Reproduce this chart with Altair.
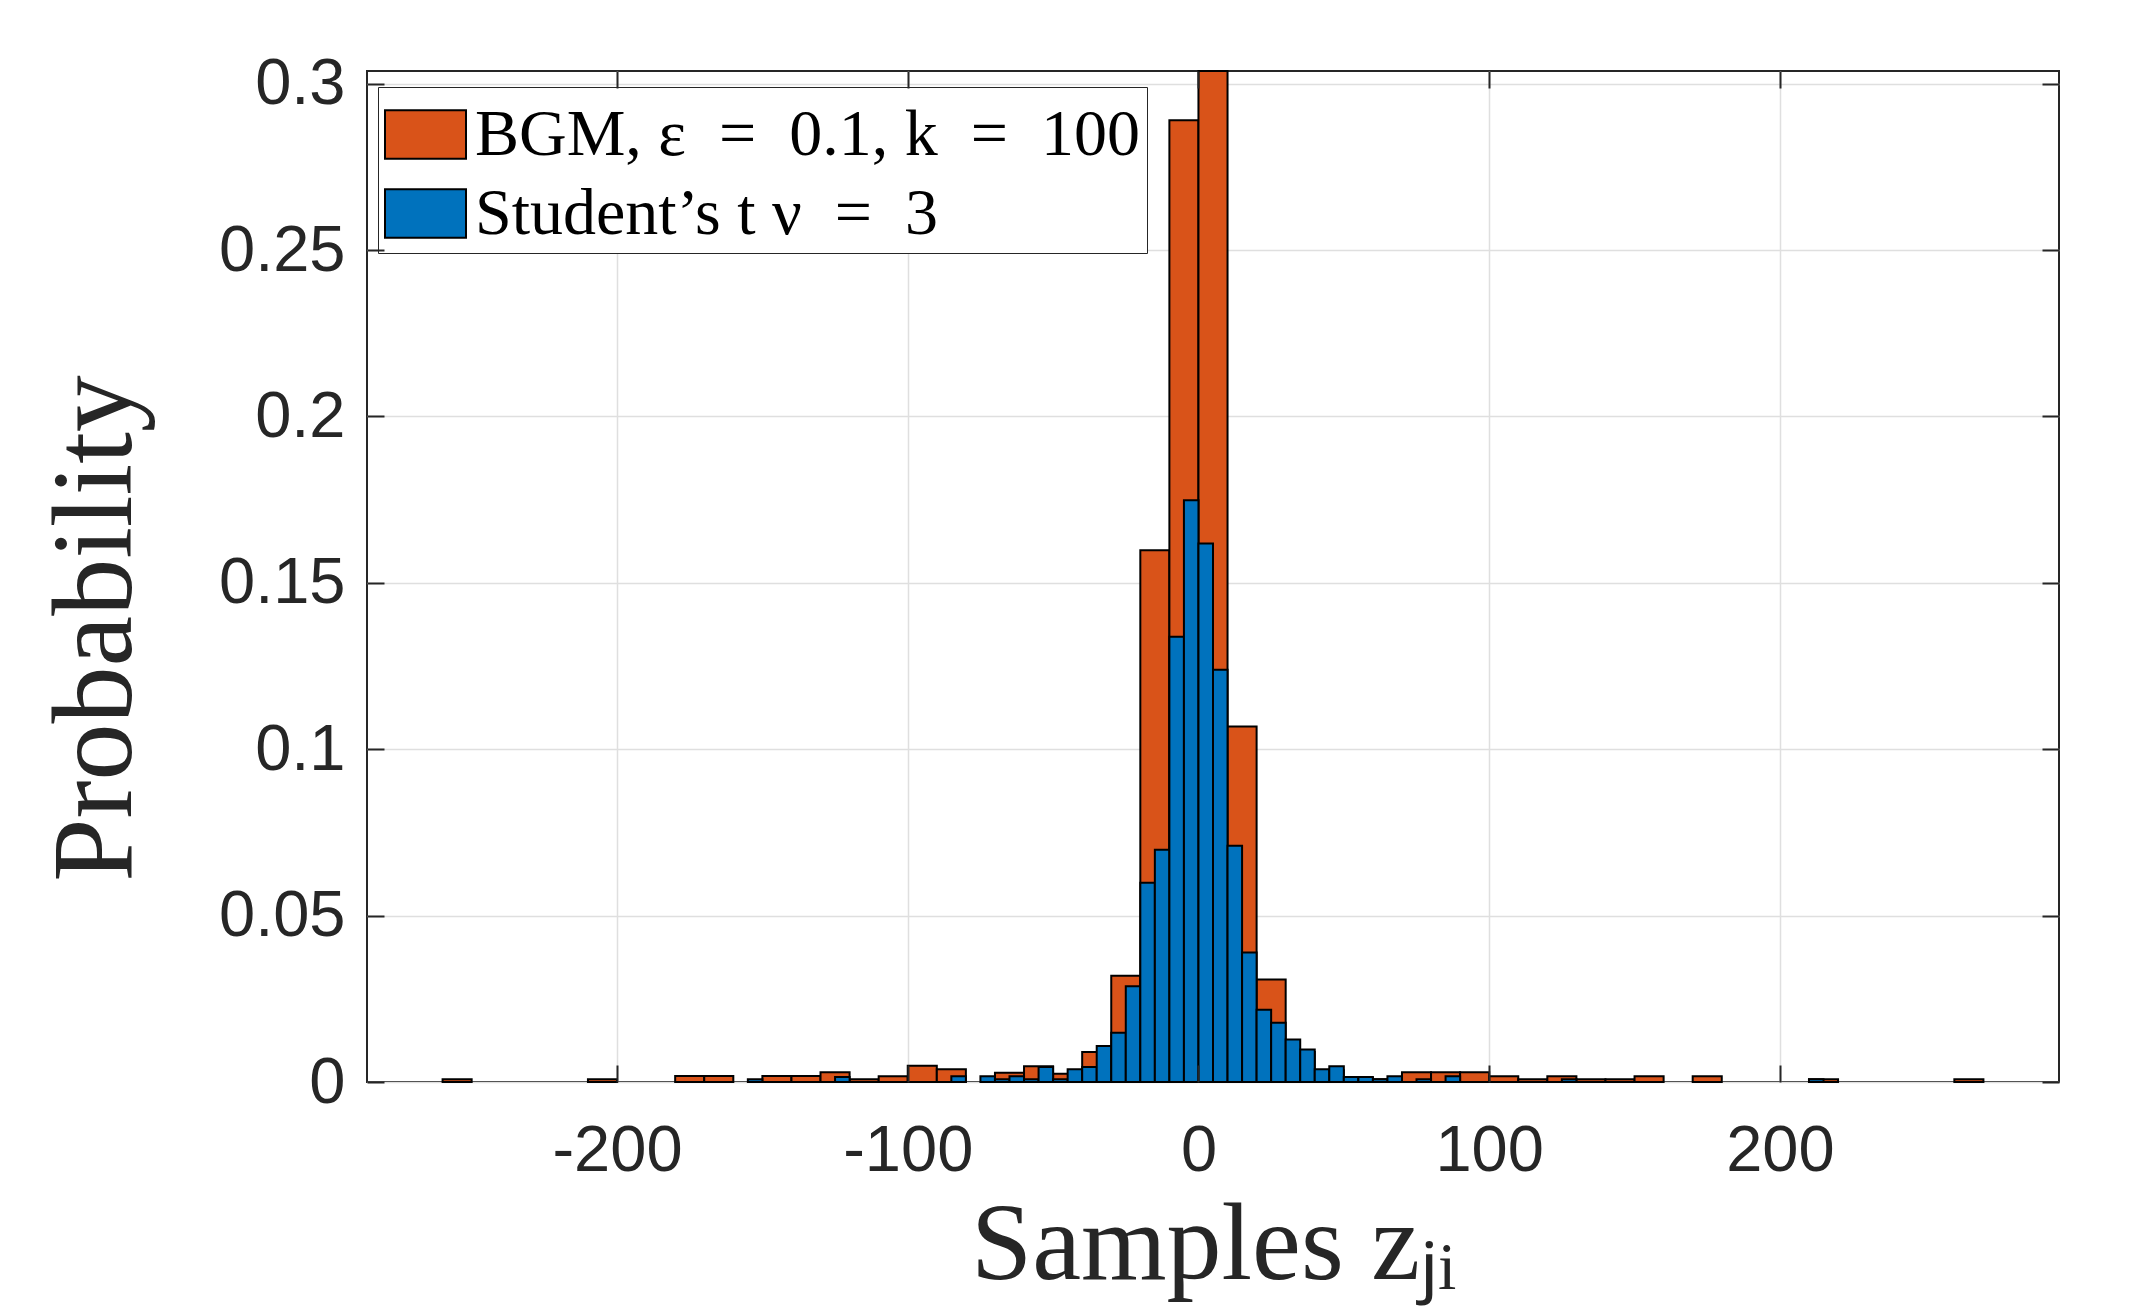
import altair as alt
import pandas as pd

# ---------------- data ----------------
series_names = ["BGM, ε\u2002=\u20020.1, k\u2002=\u2002100", "Student’s t ν\u2002=\u20023"]
series_colors = ["#D95319", "#0072BD"]

# BGM histogram: bin width 10, left edges and probabilities
bgm_width = 10
bgm_left = [-260, -210, -180, -170, -150, -140, -130, -120, -110, -100, -90, -70, -60,
            -50, -40, -30, -20, -10, 0, 10, 20, 30, 40, 50, 60, 70, 80, 90, 100, 110,
            120, 130, 140, 150, 170, 210, 260]
bgm_prob = [0.0008, 0.0008, 0.0018, 0.0018, 0.0018, 0.0018, 0.0029, 0.0008, 0.0017, 0.0049,
            0.0038, 0.0028, 0.0047, 0.0025, 0.0090, 0.0319, 0.1598, 0.2890, 0.3038, 0.1068,
            0.0308, 0.0090, 0.0035, 0.0012, 0.0008, 0.0029, 0.0029, 0.0029, 0.0017, 0.0008,
            0.0017, 0.0008, 0.0008, 0.0017, 0.0017, 0.0008, 0.0008]

# Student's t histogram: bin width 5
t_width = 5
t_left = [-155, -125, -85, -75, -70, -65, -60, -55, -50, -45, -40, -35, -30, -25, -20, -15,
          -10, -5, 0, 5, 10, 15, 20, 25, 30, 35, 40, 45, 50, 55, 60, 65, 75, 85, 125, 210]
t_prob = [0.0008, 0.0015, 0.0017, 0.0017, 0.0008, 0.0017, 0.0008, 0.0045, 0.0008, 0.0038,
          0.0045, 0.0108, 0.0148, 0.0288, 0.0599, 0.0698, 0.1338, 0.1748, 0.1618, 0.1239,
          0.0710, 0.0389, 0.0217, 0.0178, 0.0128, 0.0098, 0.0038, 0.0047, 0.0015, 0.0015,
          0.0008, 0.0017, 0.0008, 0.0017, 0.0008, 0.0008]

x_ticks = [-200, -100, 0, 100, 200]
y_ticks = [0, 0.05, 0.1, 0.15, 0.2, 0.25, 0.3]
x_domain = [-286, 296]
y_domain = [0, 0.3038]

bgm = pd.DataFrame({"start": bgm_left, "end": [v + bgm_width for v in bgm_left],
                    "prob": bgm_prob, "series": series_names[0]})
stud = pd.DataFrame({"start": t_left, "end": [v + t_width for v in t_left],
                     "prob": t_prob, "series": series_names[1]})

# ---------------- style ----------------
AX = "#262626"
GRID = "#dfdfdf"
TICK = 17
xs = alt.Scale(domain=x_domain, nice=False, zero=False)
ys = alt.Scale(domain=y_domain, nice=False, zero=True)

color = alt.Color(
    "series:N",
    scale=alt.Scale(domain=series_names, range=series_colors),
    legend=alt.Legend(
        title=None, orient="none", legendX=11, legendY=16,
        symbolType="M-1,-0.6H1V0.6H-1Z", symbolSize=6561,
        symbolStrokeColor="#000000", symbolStrokeWidth=2, symbolOpacity=1,
        labelFont="Liberation Serif", labelFontSize=66, labelColor="#000000",
        labelOffset=8, labelLimit=2000, padding=6, rowPadding=4,
        strokeColor=AX, fillColor="#ffffff",
    ),
)

# layer 1: BGM bars + labelled axes, grid and titles
red = alt.Chart(bgm).mark_rect(stroke="#000000", strokeWidth=2).encode(
    x=alt.X("start:Q", scale=xs, axis=alt.Axis(
        orient="bottom", values=x_ticks, ticks=False, tickSize=0, domain=False,
        grid=True, gridColor=GRID, gridWidth=1.5, zindex=0,
        labelFont="Liberation Sans", labelFontSize=65, labelColor=AX,
        labelPadding=88, labelBaseline="alphabetic", labelFlush=False,
        labelOverlap=False, labelExpr="datum.value + ''",
        title="Samples zⱼᵢ", titleFont="Liberation Serif", titleFontSize=110,
        titleFontWeight="normal", titleColor=AX, titleBaseline="alphabetic",
        titleAlign="center", titleX=846, titleY=196)),
    x2="end:Q",
    y=alt.Y("prob:Q", scale=ys, axis=alt.Axis(
        orient="left", values=y_ticks, ticks=False, tickSize=0, domain=False,
        grid=True, gridColor=GRID, gridWidth=1.5, zindex=0,
        labelFont="Liberation Sans", labelFontSize=65, labelColor=AX,
        labelPadding=22, labelFlush=False, labelOverlap=False, format="~g",
        title="Probability", titleFont="Liberation Serif", titleFontSize=114,
        titleFontWeight="normal", titleColor=AX, titleAngle=270,
        titleBaseline="alphabetic", titleAlign="center", titleX=-237, titleY=557)),
    y2=alt.datum(0),
    color=color,
)

# layer 2: Student's t bars + inward ticks on top and right
blue = alt.Chart(stud).mark_rect(stroke="#000000", strokeWidth=2).encode(
    x=alt.X("start:Q", scale=xs, axis=alt.Axis(
        orient="top", values=x_ticks, ticks=True, tickSize=TICK, tickWidth=2,
        tickColor=AX, offset=-TICK, domain=False, grid=False, labels=False,
        title=None, zindex=1)),
    x2="end:Q",
    y=alt.Y("prob:Q", scale=ys, axis=alt.Axis(
        orient="right", values=y_ticks, ticks=True, tickSize=TICK, tickWidth=2,
        tickColor=AX, offset=-TICK, domain=False, grid=False, labels=False,
        title=None, zindex=1)),
    y2=alt.datum(0),
    color=color,
)

# layer 3: invisible copy carrying the inward ticks on bottom and left
ticks_bl = alt.Chart(stud).mark_rect(opacity=0).encode(
    x=alt.X("start:Q", scale=xs, axis=alt.Axis(
        orient="bottom", values=x_ticks, ticks=True, tickSize=TICK, tickWidth=2,
        tickColor=AX, offset=-TICK, domain=False, grid=False, labels=False,
        title=None, zindex=1)),
    x2="end:Q",
    y=alt.Y("prob:Q", scale=ys, axis=alt.Axis(
        orient="left", values=y_ticks, ticks=True, tickSize=TICK, tickWidth=2,
        tickColor=AX, offset=-TICK, domain=False, grid=False, labels=False,
        title=None, zindex=1)),
    y2=alt.datum(0),
)

chart = (
    alt.layer(red, blue, ticks_bl)
    .resolve_axis(x="independent", y="independent")
    .properties(
        width=1692, height=1011,
        autosize=alt.AutoSizeParams(type="none"),
        padding={"left": 359, "top": 63, "right": 80, "bottom": 230},
        background="#ffffff",
    )
    .configure_view(stroke=AX, strokeWidth=2, fill="#ffffff")
)

chart.save("out.html", embed_options={"renderer": "svg", "actions": False})
